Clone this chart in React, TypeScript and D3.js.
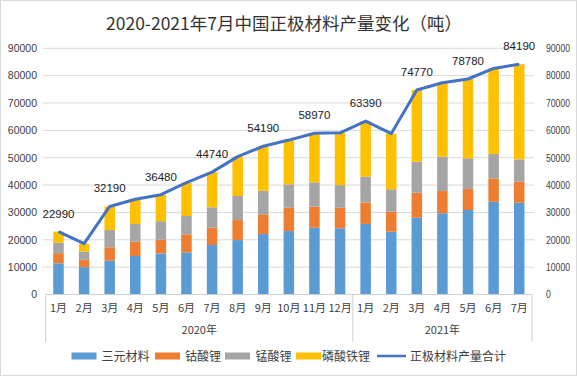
import React from "react";
import * as d3 from "d3";

const months = ["1月","2月","3月","4月","5月","6月","7月","8月","9月","10月","11月","12月","1月","2月","3月","4月","5月","6月","7月"];
const yearGroups = [
  { label: "2020年", start: 0, end: 11 },
  { label: "2021年", start: 12, end: 18 },
];
const ternary = [11400,10000,12350,14070,15000,15400,18090,19900,22100,23200,24400,24200,25800,22950,28070,29700,30900,33900,33550];
const cobalt = [3700,2700,4900,5230,5100,6600,6320,7300,7200,8500,7700,7500,7800,7300,9140,8150,7700,8550,7680];
const manganese = [3800,3000,6320,6470,6700,6700,7460,8800,8630,8550,8900,8300,9500,8200,11330,12530,11200,8900,8180];
const lfp = [4090,2900,8620,9030,9680,12200,12870,14400,16260,16200,17970,19100,20290,20350,26230,27030,28980,31300,34780];
const totals = [22990,18600,32190,34800,36480,40900,44740,50400,54190,56450,58970,59100,63390,58800,74770,77410,78780,82650,84190];
const yTicks = [0,10000,20000,30000,40000,50000,60000,70000,80000,90000];
const seriesNames = ["三元材料","钴酸锂","锰酸锂","磷酸铁锂"];
const lineName = "正极材料产量合计";
const title = "2020-2021年7月中国正极材料产量变化（吨）";

const colors = ["#5B9BD5","#ED7D31","#A5A5A5","#FFC000"];
const lineColor = "#4472C4";
const font = "'Liberation Sans', Arial, 'Noto Sans CJK SC', sans-serif";
const cjk = "'Noto Sans CJK SC', 'Liberation Sans', sans-serif";

export default function App() {
  const W = 577, H = 376;
  const x = d3.scaleBand<number>().domain(months.map((_, i) => i)).range([45.7, 532]).padding(0);
  const y = d3.scaleLinear().domain([0, 90000]).range([294.5, 48.3]);
  const bw = x.bandwidth() * 0.41;
  const rows = months.map((_, i) => ({ i, a: ternary[i], b: cobalt[i], c: manganese[i], d: lfp[i] }));
  const stacked = d3.stack<any>().keys(["a","b","c","d"])(rows);
  const line = d3.line<number>().x((_, i) => (x(i) as number) + x.bandwidth() / 2).y((v) => y(v));
  const cx = (i: number) => (x(i) as number) + x.bandwidth() / 2;

  const legendItems = [
    { x: 71.5, tx: 101.5, name: seriesNames[0], c: colors[0] },
    { x: 155, tx: 185, name: seriesNames[1], c: colors[1] },
    { x: 225, tx: 255.5, name: seriesNames[2], c: colors[2] },
    { x: 296, tx: 322, name: seriesNames[3], c: colors[3] },
  ];

  return (
    <svg width={W} height={H} style={{ position: "absolute", left: 0, top: 0, background: "#fff" }}>
      <rect x={0.5} y={0.5} width={W - 1} height={H - 1} fill="#fff" stroke="#d9d9d9" />
      <text x={284} y={30} textAnchor="middle" fontFamily={cjk} fontSize={17.5} fill="#333">{title}</text>
      {yTicks.map((t) => (
        <g key={t}>
          {t > 0 && <line x1={43} x2={534} y1={y(t)} y2={y(t)} stroke="#d9d9d9" strokeWidth={1} />}
          <text x={37} y={y(t) + 3.8} textAnchor="end" fontFamily={font} fontSize={10.5} fill="#404040">{t}</text>
          <text x={546} y={y(t) + 3.8} textAnchor="start" fontFamily={font} fontSize={10.5} fill="#404040"
            textLength={String(t).length * 4.8} lengthAdjust="spacingAndGlyphs">{t}</text>
        </g>
      ))}
      {stacked.map((s, k) => (
        <g key={k} fill={colors[k]}>
          {s.map((d, i) => (
            <rect key={i} x={cx(i) - bw / 2} y={y(d[1])} width={bw} height={y(d[0]) - y(d[1])} />
          ))}
        </g>
      ))}
      <line x1={45.7} x2={532} y1={294.5} y2={294.5} stroke="#d0d0d0" />
      {[45.7, (x(12) as number), 532].map((v, i) => (
        <line key={i} x1={v} x2={v} y1={294.5} y2={342} stroke="#d0d0d0" />
      ))}
      {months.map((m, i) => (
        <text key={i} x={cx(i)} y={312} textAnchor="middle" fontFamily={cjk} fontSize={11} fill="#404040">{m}</text>
      ))}
      {yearGroups.map((g) => (
        <text key={g.label} x={((x(g.start) as number) + (x(g.end) as number) + x.bandwidth()) / 2} y={334} textAnchor="middle" fontFamily={cjk} fontSize={11} fill="#404040">{g.label}</text>
      ))}
      <path d={line(totals) || ""} fill="none" stroke={lineColor} strokeWidth={3} strokeLinejoin="round" />
      {totals.map((v, i) => i % 2 === 0 ? (
        <text key={i} x={cx(i)} y={y(v) - 14} textAnchor="middle" fontFamily={font} fontSize={11.5} fill="#222">{v}</text>
      ) : null)}
      {legendItems.map((l) => (
        <g key={l.name}>
          <rect x={l.x} y={352.5} width={25} height={7} fill={l.c} />
          <text x={l.tx} y={360.5} fontFamily={cjk} fontSize={12} fill="#404040">{l.name}</text>
        </g>
      ))}
      <line x1={377} x2={406} y1={356} y2={356} stroke={lineColor} strokeWidth={2.5} />
      <text x={410} y={360.5} fontFamily={cjk} fontSize={12} fill="#404040">{lineName}</text>
    </svg>
  );
}
